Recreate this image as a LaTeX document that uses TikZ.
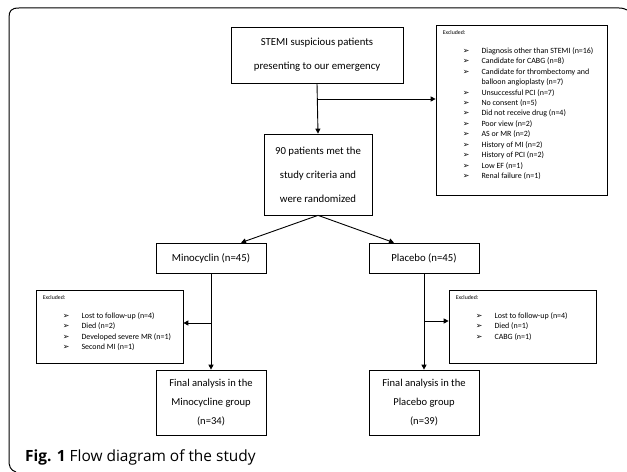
\documentclass[tikz,border=0pt]{standalone}
\usepackage{fontspec}
\setmainfont{Carlito}
\newfontfamily\capfont{Open Sans}
\newfontfamily\symfont{DejaVu Sans}
\usetikzlibrary{arrows.meta}
\tikzset{
  box/.style={draw, line width=0.7bp, inner sep=0pt, align=center, font=\fontsize{10.8}{24}\selectfont},
  finbox/.style={box, minimum width=110bp, minimum height=65bp, font=\fontsize{10.6}{19}\selectfont},
  exbox/.style={draw, line width=0.7bp, inner sep=0pt},
  extitle/.style={anchor=north west, inner sep=0pt, font=\fontsize{5.8}{6}\selectfont},
  exlist/.style={anchor=north west, inner sep=0pt},
  conn/.style={line width=0.9bp},
  arr/.style={conn, -{Triangle[length=5bp,width=5bp]}},
}
\newcommand{\bul}{{\symfont\fontsize{8}{6}\selectfont ➢}}
\newcommand{\listfont}{\fontsize{8}{10.5}\selectfont}
\begin{document}
\begin{tikzpicture}[x=1bp,y=-1bp]
\useasboundingbox (0,0) rectangle (627,472);
% frame
\draw[line width=1bp] (16,472) .. controls (10,470) and (9,466) .. (9,460) -- (9,18)
  .. controls (9,11) and (11,8) .. (19,8) -- (619,8) .. controls (623,8) and (625,9) .. (627,10);

% top boxes
\node[box, minimum width=172bp, minimum height=56bp] (stemi) at (317,55)
  {STEMI suspicious patients\\presenting to our emergency};
\node[exbox, minimum width=171bp, minimum height=170bp] (ex1) at (521.5,110) {};
\node[extitle] (ex1t) at ([shift={(7bp,-6bp)}]ex1.north west) {Excluded:};
\node[exlist] (ex1l) at ([shift={(27bp,-21bp)}]ex1.north west) {%
\listfont
\begin{tabular}{@{}l@{\hspace{12bp}}l@{}}
\bul & Diagnosis other than STEMI (n=16)\\
\bul & Candidate for CABG (n=8)\\
\bul & Candidate for thrombectomy and\\
     & balloon angioplasty (n=7)\\
\bul & Unsuccessful PCI (n=7)\\
\bul & No consent (n=5)\\
\bul & Did not receive drug (n=4)\\
\bul & Poor view (n=2)\\
\bul & AS or MR (n=2)\\
\bul & History of MI (n=2)\\
\bul & History of PCI (n=2)\\
\bul & Low EF (n=1)\\
\bul & Renal failure (n=1)
\end{tabular}};

\node[box, minimum width=108bp, minimum height=81bp] (rand) at (318,174.5)
  {90 patients met the\\study criteria and\\were randomized};

\node[box, minimum width=110bp, minimum height=30bp] (mino) at (211,258) {Minocyclin (n=45)};
\node[box, minimum width=110bp, minimum height=30bp] (plac) at (424,258) {Placebo (n=45)};

\node[exbox, minimum width=147bp, minimum height=73bp] (ex2) at (109.5,326.5) {};
\node[extitle] (ex2t) at ([shift={(7bp,-6bp)}]ex2.north west) {Excluded:};
\node[exlist] (ex2l) at ([shift={(27bp,-21bp)}]ex2.north west) {%
\listfont
\begin{tabular}{@{}l@{\hspace{12bp}}l@{}}
\bul & Lost to follow-up (n=4)\\
\bul & Died (n=2)\\
\bul & Developed severe MR (n=1)\\
\bul & Second MI (n=1)
\end{tabular}};

\node[exbox, minimum width=147bp, minimum height=73bp] (ex3) at (522.5,326.5) {};
\node[extitle] (ex3t) at ([shift={(7bp,-6bp)}]ex3.north west) {Excluded:};
\node[exlist] (ex3l) at ([shift={(27bp,-21bp)}]ex3.north west) {%
\listfont
\begin{tabular}{@{}l@{\hspace{12bp}}l@{}}
\bul & Lost to follow-up (n=4)\\
\bul & Died (n=1)\\
\bul & CABG (n=1)
\end{tabular}};

\node[finbox] (fin1) at (211,402.5)
  {Final analysis in the\\Minocycline group\\(n=34)};
\node[finbox] (fin2) at (424,402.5)
  {Final analysis in the\\Placebo group\\(n=39)};

% connectors
\coordinate (b1) at (stemi.south |- 0,99);
\draw[arr] (stemi.south) -- (rand.north);
\draw[arr] (b1) -- (b1 -| ex1.west);
\draw[arr] (rand.south) -- ([xshift=30bp]mino.north);
\draw[arr] (rand.south) -- ([xshift=-30bp]plac.north);
\draw[arr] (mino.south) -- (fin1.north);
\draw[arr] (plac.south) -- (fin2.north);
\coordinate (b2) at (mino.south |- 0,323);
\coordinate (b3) at (plac.south |- 0,321);
\draw[arr] (b2) -- (b2 -| ex2.east);
\draw[arr] (b3) -- (b3 -| ex3.west);

% caption
\node[anchor=base west, inner sep=0pt, font=\capfont\fontsize{15.5}{18}\selectfont] (cap) at (25,461)
  {\textbf{Fig. 1} Flow diagram of the study};
\end{tikzpicture}
\end{document}
